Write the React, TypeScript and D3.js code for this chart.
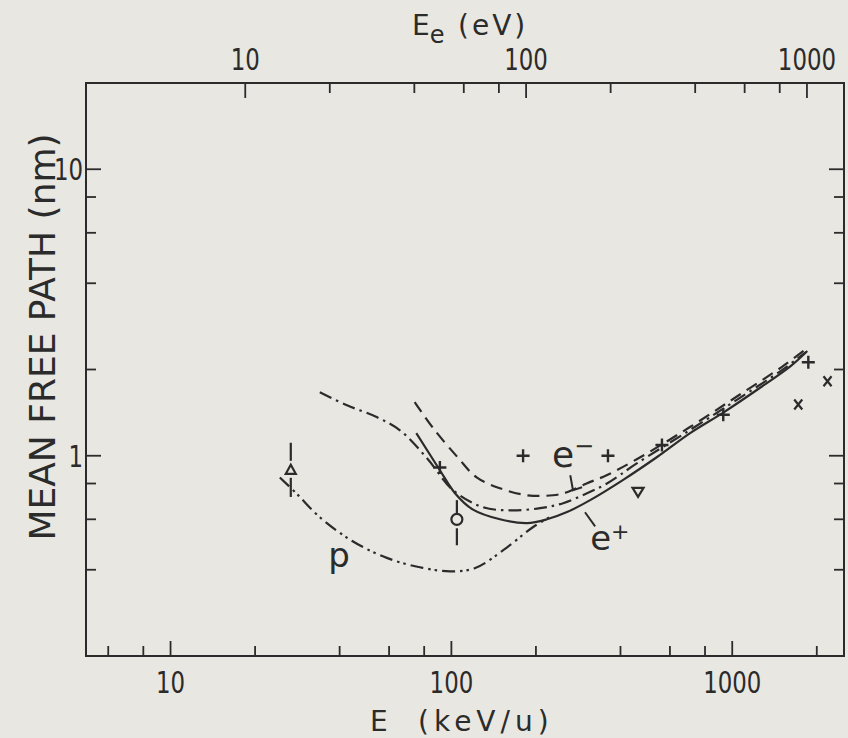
import React, { useEffect, useRef } from 'react';
import * as d3 from 'd3';

// bottom axis: E (keV/u), left axis: mean free path (nm)
// e+ (solid)
const ePlusE = [75, 91, 103, 119, 149, 186, 219, 258, 312, 409, 540, 708, 929, 1227, 1610, 1850];
const ePlusMfp = [1.2, 0.89, 0.74, 0.65, 0.6, 0.582, 0.6, 0.636, 0.7, 0.824, 0.99, 1.2, 1.415, 1.7, 2.05, 2.32];

// e- (dashed)
const eMinusE = [74, 86, 106, 123, 149, 186, 230, 258, 303, 357, 457, 705, 1045, 1500, 1853];
const eMinusMfp = [1.54, 1.25, 0.98, 0.84, 0.77, 0.728, 0.728, 0.746, 0.8, 0.855, 0.972, 1.257, 1.616, 2.04, 2.38];

// e- second calculation (dash-dot)
const eMinus2E = [34, 42.5, 54.4, 65.6, 81.9, 101.4, 129.7, 161.8, 207, 250, 304, 358, 457, 705, 1045, 1500, 1830];
const eMinus2Mfp = [1.666, 1.5, 1.362, 1.227, 0.98, 0.758, 0.661, 0.645, 0.656, 0.683, 0.74, 0.8, 0.94, 1.227, 1.574, 1.987, 2.3];

// protons (dash-dot-dot)
const protonE = [24.5, 28.4, 33.7, 44.2, 58.9, 77.2, 98.8, 121, 153, 195, 228];
const protonMfp = [0.84, 0.73, 0.615, 0.505, 0.44, 0.408, 0.395, 0.405, 0.468, 0.563, 0.616];

// measured points
const plusE = [91, 180, 361, 562, 929, 1866];
const plusMfp = [0.91, 1.0, 1.0, 1.09, 1.39, 2.12];
const crossE = [1718, 2184];
const crossMfp = [1.51, 1.82];
const triDownE = [462];
const triDownMfp = [0.748];
const triUpE = [26.8];
const triUpMfp = [0.893];
const triUpErr = [[0.718, 1.11]];
const circleE = [104.6];
const circleMfp = [0.6];
const circleErr = [[0.487, 0.70]];

// axes
const xTicks = [6, 8, 10, 20, 40, 60, 80, 100, 200, 400, 600, 800, 1000, 2000];
const xMajor = [10, 100, 1000];
const eeTicks = [10, 20, 40, 60, 80, 100, 200, 400, 600, 800, 1000];
const eeMajor = [10, 100, 1000];
const yTicks = [0.4, 0.6, 0.8, 1, 2, 4, 6, 8, 10];
const yMajor = [1, 10];
const eeFactor = 0.542; // Ee (eV) per E (keV/u)

const W = 848;
const H = 738;
const bg = '#e9e7e2';
const ink = '#2b2b2b';
const numFont = "'DejaVu Sans Condensed', 'DejaVu Sans', sans-serif";
const txtFont = "'DejaVu Sans', sans-serif";

export default function App() {
  const ref = useRef<SVGSVGElement>(null);

  useEffect(() => {
    const svg = d3.select(ref.current);
    svg.selectAll('*').remove();

    const left = 86, right = 844, top = 83, bottom = 656;
    const x = d3.scaleLog().domain([5, 2500]).range([left, right]);
    const y = d3.scaleLog().domain([0.2, 20]).range([bottom, top]);

    svg.append('rect').attr('x', 0).attr('y', 0).attr('width', W).attr('height', H).attr('fill', bg);

    const g = svg.append('g');

    // frame
    g.append('rect')
      .attr('x', left).attr('y', top)
      .attr('width', right - left).attr('height', bottom - top)
      .attr('fill', 'none').attr('stroke', ink).attr('stroke-width', 2);

    // narrow digits like the lettering of the original
    const num = (px: number, py: number, anchor: string, t: number) => {
      g.append('text')
        .attr('transform', `translate(${px},${py}) scale(0.82,1)`)
        .attr('text-anchor', anchor)
        .attr('font-family', numFont).attr('font-size', 31).attr('fill', ink).text(t);
    };

    // bottom ticks
    xTicks.forEach(t => {
      const len = xMajor.includes(t) ? 15 : 10;
      g.append('line').attr('x1', x(t)).attr('x2', x(t)).attr('y1', bottom).attr('y2', bottom - len)
        .attr('stroke', ink).attr('stroke-width', 1.8);
    });
    xMajor.forEach(t => num(x(t), 693, 'middle', t));

    // top ticks (electron energy)
    eeTicks.forEach(t => {
      const len = eeMajor.includes(t) ? 15 : 10;
      const px = x(t / eeFactor);
      g.append('line').attr('x1', px).attr('x2', px).attr('y1', top).attr('y2', top + len)
        .attr('stroke', ink).attr('stroke-width', 1.8);
    });
    eeMajor.forEach(t => num(x(t / eeFactor), 70, 'middle', t));

    // left and right ticks
    yTicks.forEach(t => {
      const len = yMajor.includes(t) ? 15 : 10;
      g.append('line').attr('x1', left).attr('x2', left + len).attr('y1', y(t)).attr('y2', y(t))
        .attr('stroke', ink).attr('stroke-width', 1.8);
      g.append('line').attr('x1', right).attr('x2', right - len).attr('y1', y(t)).attr('y2', y(t))
        .attr('stroke', ink).attr('stroke-width', 1.8);
    });
    yMajor.forEach(t => num(83, y(t) + 11, 'end', t));

    // axis titles
    const bt = g.append('text').attr('x', 370).attr('y', 731)
      .attr('font-family', txtFont).attr('font-size', 28).attr('fill', ink);
    bt.append('tspan').text('E');
    bt.append('tspan').attr('x', 418).attr('letter-spacing', 5).text('(keV/u)');

    const tt = g.append('text').attr('x', 412).attr('y', 35)
      .attr('font-family', txtFont).attr('font-size', 28).attr('fill', ink);
    tt.append('tspan').text('E');
    tt.append('tspan').attr('dy', 8).attr('font-size', 24).text('e');
    tt.append('tspan').attr('x', 458).attr('dy', -8).attr('letter-spacing', 3).text('(eV)');

    g.append('text')
      .attr('transform', `translate(55, 337) rotate(-90)`)
      .attr('text-anchor', 'middle')
      .attr('font-family', txtFont).attr('font-size', 36).attr('fill', ink)
      .text('MEAN FREE PATH (nm)');

    // curves
    const line = d3.line<[number, number]>()
      .x(d => x(d[0])).y(d => y(d[1]))
      .curve(d3.curveCatmullRom.alpha(0.5));

    const curves: { e: number[]; v: number[]; dash: string | null }[] = [
      { e: protonE, v: protonMfp, dash: '13,5,2.5,4,2.5,5' },
      { e: eMinus2E, v: eMinus2Mfp, dash: '13,5,2.5,5' },
      { e: eMinusE, v: eMinusMfp, dash: '12,7' },
      { e: ePlusE, v: ePlusMfp, dash: null },
    ];
    curves.forEach(c => {
      const pts = c.e.map((e, i) => [e, c.v[i]] as [number, number]);
      const p = g.append('path').attr('d', line(pts))
        .attr('fill', 'none').attr('stroke', ink).attr('stroke-width', 2.2);
      if (c.dash) p.attr('stroke-dasharray', c.dash);
    });

    // markers
    plusE.forEach((e, i) => {
      g.append('path')
        .attr('transform', `translate(${x(e)},${y(plusMfp[i])})`)
        .attr('d', 'M-6.5,0H6.5M0,-6.5V6.5')
        .attr('stroke', ink).attr('stroke-width', 2.4).attr('fill', 'none');
    });
    crossE.forEach((e, i) => {
      g.append('path')
        .attr('transform', `translate(${x(e)},${y(crossMfp[i])})`)
        .attr('d', 'M-4,-5L4,5M-4,5L4,-5')
        .attr('stroke', ink).attr('stroke-width', 2.2).attr('fill', 'none');
    });
    triDownE.forEach((e, i) => {
      g.append('path')
        .attr('transform', `translate(${x(e)},${y(triDownMfp[i])})`)
        .attr('d', 'M-5.5,-4L5.5,-4L0,5Z')
        .attr('stroke', ink).attr('stroke-width', 2.2).attr('fill', bg);
    });
    triUpE.forEach((e, i) => {
      const cx = x(e), cy = y(triUpMfp[i]);
      g.append('line').attr('x1', cx).attr('x2', cx).attr('y1', y(triUpErr[i][1])).attr('y2', cy - 9)
        .attr('stroke', ink).attr('stroke-width', 2.2);
      g.append('line').attr('x1', cx).attr('x2', cx).attr('y1', cy + 8).attr('y2', y(triUpErr[i][0]))
        .attr('stroke', ink).attr('stroke-width', 2.2);
      g.append('path')
        .attr('transform', `translate(${cx},${cy})`)
        .attr('d', 'M-5,4L5,4L0,-5Z')
        .attr('stroke', ink).attr('stroke-width', 2.2).attr('fill', bg);
    });
    circleE.forEach((e, i) => {
      const cx = x(e), cy = y(circleMfp[i]);
      g.append('line').attr('x1', cx).attr('x2', cx).attr('y1', y(circleErr[i][1])).attr('y2', cy - 6)
        .attr('stroke', ink).attr('stroke-width', 2.2);
      g.append('line').attr('x1', cx).attr('x2', cx).attr('y1', cy + 9).attr('y2', y(circleErr[i][0]))
        .attr('stroke', ink).attr('stroke-width', 2.2);
      g.append('circle').attr('cx', cx).attr('cy', cy).attr('r', 5.5)
        .attr('stroke', ink).attr('stroke-width', 2.2).attr('fill', bg);
    });

    // curve labels and pointers
    const eMinusPointer: [number, number][] = [[265, 0.855], [271, 0.758], [292, 0.776]];
    const ePlusPointer: [number, number][] = [[299, 0.635], [325, 0.567]];
    [eMinusPointer, ePlusPointer].forEach(pp => {
      g.append('path').attr('d', d3.line<[number, number]>().x(d => x(d[0])).y(d => y(d[1]))(pp))
        .attr('fill', 'none').attr('stroke', ink).attr('stroke-width', 2);
    });

    const lm = g.append('text').attr('x', x(228)).attr('y', y(0.912))
      .attr('font-family', txtFont).attr('font-size', 36).attr('fill', ink);
    lm.append('tspan').text('e');
    lm.append('tspan').attr('dy', -13).attr('font-size', 24).text('−');

    const lp = g.append('text').attr('x', x(312)).attr('y', y(0.468))
      .attr('font-family', txtFont).attr('font-size', 34).attr('fill', ink);
    lp.append('tspan').text('e');
    lp.append('tspan').attr('dy', -11).attr('font-size', 22).text('+');

    g.append('text').attr('x', x(36.4)).attr('y', y(0.408))
      .attr('font-family', txtFont).attr('font-size', 34).attr('fill', ink).text('p');
  }, []);

  return (
    <svg ref={ref} width={W} height={H}
      style={{ position: 'absolute', left: 0, top: 0, display: 'block' }} />
  );
}
